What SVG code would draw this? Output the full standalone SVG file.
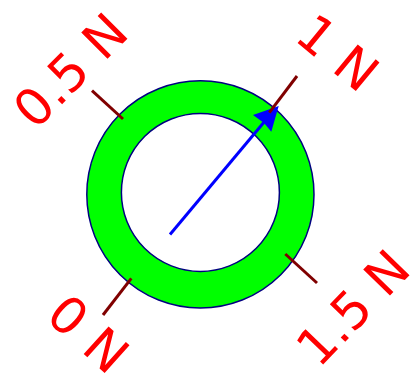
<svg xmlns="http://www.w3.org/2000/svg" width="416" height="388" viewBox="0 0 416 388">
<style>
.lbl{font-family:"DejaVu Sans",sans-serif;font-size:51px;fill:#ff0000;text-anchor:middle}
.tick{stroke:#800000;stroke-width:3;stroke-linecap:butt}
.ring{stroke:#000080;stroke-width:1.5}
</style>
<rect width="416" height="388" fill="#ffffff"/>
<g id="ring">
<circle class="ring" cx="200.4" cy="194.4" r="113.6" fill="#00ff00"/>
<circle class="ring" cx="200.4" cy="192.4" r="79" fill="#ffffff"/>
</g>
<g id="connectors">
<line x1="170" y1="234.5" x2="265" y2="121" stroke="#0000ff" stroke-width="3"/>
<polygon points="278.7,106 271.3,131.7 264,123 253,115" fill="#0000ff"/>
<line class="tick" x1="92" y1="90.7" x2="123" y2="119"/>
<line class="tick" x1="297" y1="76" x2="269.3" y2="112.7"/>
<line class="tick" x1="131.3" y1="278.3" x2="103" y2="315"/>
<line class="tick" x1="285.3" y1="254" x2="317" y2="283"/>
</g>
<g id="label-0">
<text class="lbl" transform="translate(88.6,333.5) rotate(42)" y="18.5">0 N</text>
</g>
<g id="label-0.5">
<text class="lbl" transform="translate(70,70) rotate(-45)" y="18.5">0.5 N</text>
</g>
<g id="label-1">
<text class="lbl" transform="translate(338,52.4) rotate(39.5)" y="18.5">1 N</text>
</g>
<g id="label-1.5">
<text class="lbl" transform="translate(352.6,307.5) rotate(-46)" y="18.5">1.5 N</text>
</g>
</svg>
